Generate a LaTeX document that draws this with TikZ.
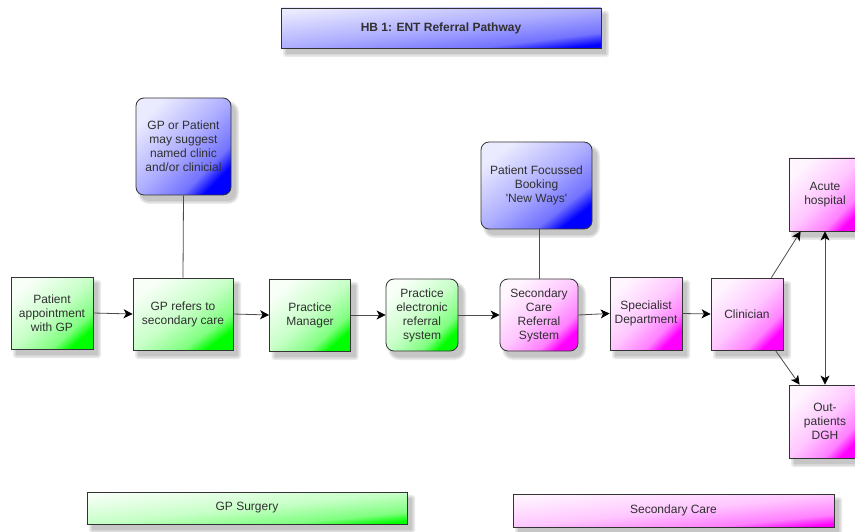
\documentclass[tikz,border=0pt]{standalone}
\usepackage{fontspec}
\setmainfont{Liberation Sans}[Ligatures=TeXOff]
\usetikzlibrary{arrows.meta}
\definecolor{txt}{HTML}{303030}
\definecolor{sh1}{HTML}{EAEAEA}
\definecolor{sh2}{HTML}{D6D6D6}
\definecolor{sh3}{HTML}{C6C6C6}
\pgfdeclareverticalshading{gshade}{100bp}{color(0bp)=(green); color(25bp)=(green); color(33bp)=(green!50); color(50bp)=(green!22); color(75bp)=(green!3); color(100bp)=(green!3)}
\pgfdeclareverticalshading{pshade}{100bp}{color(0bp)=(magenta); color(25bp)=(magenta); color(33bp)=(magenta!50); color(50bp)=(magenta!22); color(75bp)=(magenta!4); color(100bp)=(magenta!4)}
\pgfdeclareverticalshading{bshade}{100bp}{color(0bp)=(blue); color(25bp)=(blue); color(33bp)=(blue!55); color(50bp)=(blue!32); color(75bp)=(blue!8); color(100bp)=(blue!8)}
% shadow: [corner radius]{cx}{cy}{w}{h}
\newcommand\shd[5][0]{%
  \fill[sh1, rounded corners=#1pt+3pt] ({#2-#4/2+2},{#3-#5/2+3}) rectangle ({#2+#4/2+8},{#3+#5/2+9});
  \fill[sh2, rounded corners=#1pt+1.5pt] ({#2-#4/2+3.5},{#3-#5/2+4.5}) rectangle ({#2+#4/2+6.5},{#3+#5/2+7.5});
  \fill[sh3, rounded corners=#1pt] ({#2-#4/2+5},{#3-#5/2+6}) rectangle ({#2+#4/2+5},{#3+#5/2+6});}
\tikzset{
  x=1pt, y=-1pt,
  base/.style={draw=black!80, line width=0.8pt, align=center, text=txt,
    font=\fontsize{12}{14}\selectfont, inner sep=2pt},
  greenbox/.style={base, shading=gshade},
  pinkbox/.style={base, shading=pshade},
  bluebox/.style={base, shading=bshade},
  rnd/.style={rounded corners=8pt},
  conn/.style={draw=black!70, line width=0.8pt},
  tip/.tip={Stealth[length=9pt,width=9pt,inset=2.5pt,black]},
  arr/.style={conn, -tip},
  darr/.style={conn, tip-tip},
}
\begin{document}
\begin{tikzpicture}
\fill[white] (0,0) rectangle (855,532);
% shadows
\shd{441}{28}{320}{40}
\shd{52}{313}{82}{72}
\shd{183}{314}{100}{72}
\shd{310}{315}{81}{72}
\shd[8]{422}{315}{72}{72}
\shd[8]{539}{315}{78}{72}
\shd{646}{313.5}{72}{73}
\shd{747}{314}{72}{72}
\shd{825}{194.5}{72}{73}
\shd{825}{421.5}{72}{73}
\shd[8]{183.5}{146.5}{95}{97}
\shd[8]{536.5}{185.5}{111}{87}
\shd{247}{508}{320}{32}
\shd{673.5}{510.5}{321}{33}

\node[bluebox, shading angle=7.1, minimum width=320pt, minimum height=40pt, font=\bfseries\fontsize{12}{14}\selectfont] (title) at (441,28) {HB 1: ENT Referral Pathway};

\node[greenbox, shading angle=41.3, minimum width=82pt, minimum height=72pt] (pa) at (52,313) {Patient\\appointment\\with GP};
\node[greenbox, shading angle=35.8, minimum width=100pt, minimum height=72pt] (gpr) at (183,314) {GP refers to\\secondary care};
\node[greenbox, shading angle=41.6, minimum width=81pt, minimum height=72pt] (pm) at (310,315) {Practice\\Manager};
\node[greenbox, shading angle=45, rnd, minimum width=72pt, minimum height=72pt] (pers) at (422,315) {Practice\\electronic\\referral\\system};
\node[pinkbox, shading angle=42.7, rnd, minimum width=78pt, minimum height=72pt] (scrs) at (539,315) {Secondary\\Care\\Referral\\System};
\node[pinkbox, shading angle=45.4, minimum width=72pt, minimum height=73pt] (sd) at (646,313.5) {Specialist\\Department};
\node[pinkbox, shading angle=45, minimum width=72pt, minimum height=72pt] (clin) at (747,314) {Clinician};
\node[pinkbox, shading angle=45.4, minimum width=72pt, minimum height=73pt] (acute) at (825,194.5) {Acute\\hospital};
\node[pinkbox, shading angle=45.4, minimum width=72pt, minimum height=73pt] (out) at (825,421.5) {Out-\\patients\\DGH};

\node[bluebox, shading angle=45.6, rnd, minimum width=95pt, minimum height=97pt] (gpp) at (183.5,146.5) {GP or Patient\\may suggest\\named clinic\\and/or clinicial};
\node[bluebox, shading angle=38.1, rnd, minimum width=111pt, minimum height=87pt] (pf) at (536.5,185.5) {Patient Focussed\\Booking\\'New Ways'};

\node[greenbox, shading angle=5.7, minimum width=320pt, minimum height=32pt] (gps) at (247,508) {GP Surgery};
\node[pinkbox, shading angle=5.9, minimum width=321pt, minimum height=33pt] (sc) at (673.5,510.5) {Secondary Care};

\draw[conn] (gpp.south) -- (gpr.north);
\draw[conn] (scrs.north |- pf.south) -- (scrs.north);

\draw[arr] (pa.east) -- (gpr.west);
\draw[arr] (gpr.east) -- (pm.west);
\draw[arr] (pm.east) -- (pers.west);
\draw[arr] (pers.east) -- (scrs.west);
\draw[arr] (scrs.east) -- (sd.west);
\draw[arr] (sd.east) -- (clin.west);

\draw[arr] ([xshift=-12pt]clin.north east) -- ([xshift=12pt]acute.south west);
\draw[arr] ([xshift=-8pt]clin.south east) -- ([xshift=11pt]out.north west);
\draw[darr] (acute.south) -- (out.north);

\pgfresetboundingbox
\useasboundingbox (0,0) rectangle (855,532);
\end{tikzpicture}
\end{document}
